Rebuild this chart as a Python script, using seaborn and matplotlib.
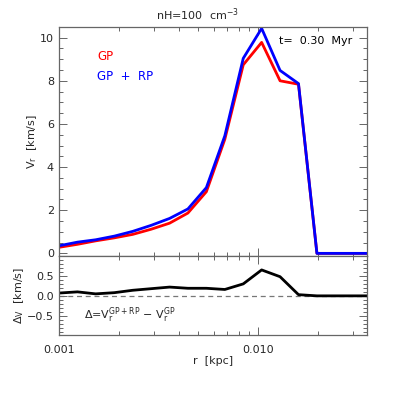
import numpy as np
import pandas as pd
import matplotlib
matplotlib.use("Agg")
import matplotlib.pyplot as plt
import seaborn as sns
from matplotlib.ticker import FixedLocator, MultipleLocator, LogLocator, NullFormatter, FixedFormatter

sns.set_style("ticks")
plt.rcParams['font.family'] = ['DejaVu Sans']
plt.rcParams['mathtext.fontset'] = 'dejavusans'

# ---- data ----
r_kpc = [0.00100, 0.00124, 0.00153, 0.00190, 0.00235, 0.00291, 0.00360, 0.00445,
         0.00551, 0.00682, 0.00844, 0.01044, 0.01292, 0.01599, 0.01979, 0.0245,
         0.0303, 0.0375]
v_gp_rp = [0.35, 0.52, 0.63, 0.80, 1.02, 1.30, 1.62, 2.06, 3.05, 5.45, 9.04, 10.43,
           8.48, 7.87, 0.0, 0.0, 0.0, 0.0]
v_gp = [0.28, 0.42, 0.58, 0.72, 0.88, 1.12, 1.40, 1.87, 2.86, 5.29, 8.74, 9.78,
        8.00, 7.84, 0.0, 0.0, 0.0, 0.0]
delta_v = [0.07, 0.10, 0.05, 0.08, 0.14, 0.18, 0.22, 0.19, 0.19, 0.16, 0.30, 0.65,
           0.48, 0.03, 0.0, 0.0, 0.0, 0.0]
x_tick_vals = [0.001, 0.01]
x_tick_labels = ["0.001", "0.010"]

df_top = pd.DataFrame({
    "r": r_kpc * 2,
    "v": v_gp + v_gp_rp,
    "model": ["GP"] * len(r_kpc) + ["GP + RP"] * len(r_kpc),
})
df_bot = pd.DataFrame({"r": r_kpc, "d": delta_v})

fig = plt.figure(figsize=(3.95, 3.95), dpi=100)
ax1 = fig.add_axes([0.149, 0.352, 0.780, 0.580])
ax2 = fig.add_axes([0.149, 0.152, 0.780, 0.200], sharex=ax1)

sns.lineplot(data=df_top, x="r", y="v", hue="model",
             palette={"GP": "#ff0000", "GP + RP": "#0000ff"},
             linewidth=2.0, ax=ax1, legend=False, estimator=None, sort=False)
sns.lineplot(data=df_bot, x="r", y="d", color="black", linewidth=2.0, ax=ax2,
             estimator=None, sort=False)
ax2.axhline(0.0, color="#777777", lw=0.9, ls=(0, (4, 3)), zorder=0)

frame_c = "#666666"
fs = 8
for ax in (ax1, ax2):
    ax.set_xscale("log")
    ax.set_xlim(0.001, 0.0353)
    for s in ax.spines.values():
        s.set_color(frame_c)
        s.set_linewidth(0.9)
    ax.tick_params(which="both", direction="in", top=True, right=True,
                   color=frame_c, labelsize=fs, width=0.7)
    ax.tick_params(which="major", length=6)
    ax.tick_params(which="minor", length=3)
    ax.xaxis.set_major_locator(FixedLocator(x_tick_vals))
    ax.xaxis.set_minor_locator(LogLocator(base=10, subs=np.arange(2, 10)))
    ax.xaxis.set_minor_formatter(NullFormatter())
    ax.set_xlabel("")
    ax.set_ylabel("")

ax1.set_ylim(-0.12, 10.5)
ax1.yaxis.set_major_locator(MultipleLocator(2))
ax1.yaxis.set_minor_locator(MultipleLocator(0.5))
ax1.tick_params(axis="x", labelbottom=False)
ax1.set_ylabel("V$_\\mathrm{r}$  [km/s]", fontsize=fs, labelpad=1)

ax2.set_ylim(-0.98, 1.0)
ax2.yaxis.set_major_locator(FixedLocator([-0.5, 0.0, 0.5]))
ax2.yaxis.set_major_formatter(FixedFormatter(["\u22120.5", "0.0", "0.5"]))
ax2.yaxis.set_minor_locator(MultipleLocator(0.1))
ax2.xaxis.set_major_formatter(FixedFormatter(x_tick_labels))
ax2.tick_params(axis="x", pad=7)
ax2.set_xlabel("r  [kpc]", fontsize=fs, labelpad=1)
ax2.set_ylabel("\u0394$_\\mathrm{V}$  [km/s]", fontsize=fs, labelpad=1)

fig.text(0.5, 0.962, "nH=100  cm$^{-3}$", fontsize=fs, ha="center", va="center")
ax1.text(0.125, 0.87, "GP", color="#ff0000", fontsize=8.5, transform=ax1.transAxes,
         va="center", ha="left")
ax1.text(0.125, 0.785, "GP  +  RP", color="#0000ff", fontsize=8.5, transform=ax1.transAxes,
         va="center", ha="left")
ax1.text(0.715, 0.94, "t=  0.30  Myr", color="black", fontsize=fs, transform=ax1.transAxes,
         va="center", ha="left")
ax2.text(0.08, 0.25, "\u0394=V$_\\mathrm{r}^{\\mathrm{GP+RP}}$ \u2212 V$_\\mathrm{r}^{\\mathrm{GP}}$",
         fontsize=fs, transform=ax2.transAxes, va="center", ha="left")

fig.savefig("out.png", dpi=100)
